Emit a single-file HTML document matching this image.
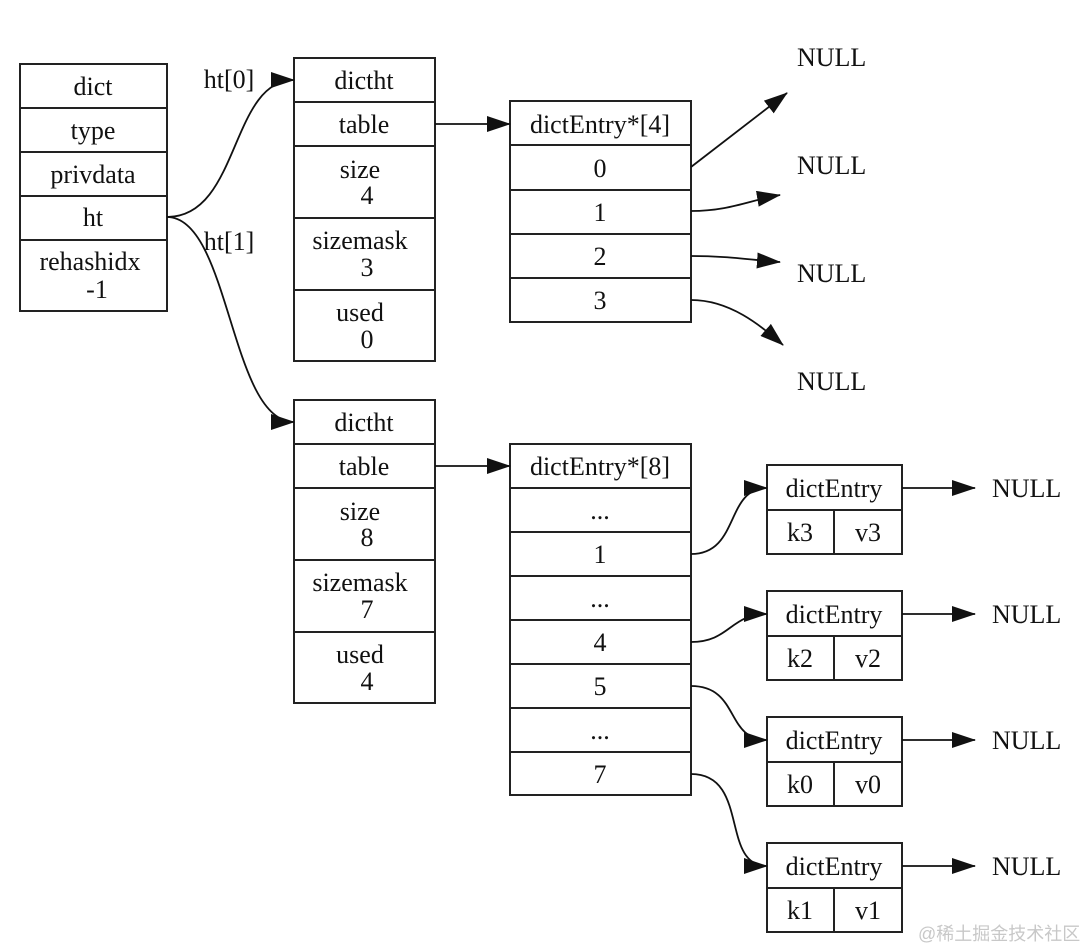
<!DOCTYPE html>
<html><head><meta charset="utf-8"><style>
html,body{margin:0;padding:0;background:#fff;}
svg{display:block;}
text{font-family:"Liberation Serif",serif;font-size:26px;fill:#111;text-anchor:middle;}
.l{text-anchor:start;}
</style></head><body>
<svg width="1084" height="948" viewBox="0 0 1084 948" xmlns="http://www.w3.org/2000/svg">
<defs>
<marker id="a" markerWidth="24" markerHeight="16" refX="23" refY="8" orient="auto" markerUnits="userSpaceOnUse">
<path d="M0,0 L24,8 L0,16 Z" fill="#111"/>
</marker>
</defs>
<g fill="none" stroke="#222" stroke-width="2">
<rect x="20" y="64" width="147" height="247"/>
<path d="M20 108H167M20 152H167M20 196H167M20 240H167"/>
<rect x="294" y="58" width="141" height="303"/>
<path d="M294 102H435M294 146H435M294 218H435M294 290H435"/>
<rect x="510" y="101" width="181" height="221"/>
<path d="M510 145H691M510 190H691M510 234H691M510 278H691"/>
<rect x="294" y="400" width="141" height="303"/>
<path d="M294 444H435M294 488H435M294 560H435M294 632H435"/>
<rect x="510" y="444" width="181" height="351"/>
<path d="M510 488H691M510 532H691M510 576H691M510 620H691M510 664H691M510 708H691M510 752H691"/>
<rect x="767" y="465" width="135" height="89"/><path d="M767 510H902M834 510V554"/>
<rect x="767" y="591" width="135" height="89"/><path d="M767 636H902M834 636V680"/>
<rect x="767" y="717" width="135" height="89"/><path d="M767 762H902M834 762V806"/>
<rect x="767" y="843" width="135" height="89"/><path d="M767 888H902M834 888V932"/>
</g>
<g fill="none" stroke="#111" stroke-width="1.8" marker-end="url(#a)">
<path d="M167 217 C240 217 230 80 294 80"/>
<path d="M167 217 C230 217 230 422 294 422"/>
<path d="M435 124 H510"/>
<path d="M435 466 H510"/>
<path d="M691 167 L787 93"/>
<path d="M691 211 C730 211 750 200 780 195"/>
<path d="M691 256 C730 256 750 260 780 262"/>
<path d="M691 300 C730 300 760 325 783 345"/>
<path d="M691 554 C740 554 725 488 767 488"/>
<path d="M691 642 C730 642 730 614 767 614"/>
<path d="M691 686 C740 686 725 740 767 740"/>
<path d="M691 774 C750 774 720 866 767 866"/>
<path d="M902 488 H975"/>
<path d="M902 614 H975"/>
<path d="M902 740 H975"/>
<path d="M902 866 H975"/>
</g>
<text x="93" y="95">dict</text>
<text x="93" y="139">type</text>
<text x="93" y="183">privdata</text>
<text x="93" y="226">ht</text>
<text x="90" y="270">rehashidx</text>
<text x="97" y="298">-1</text>
<text x="229" y="88">ht[0]</text>
<text x="229" y="250">ht[1]</text>
<text x="364" y="89">dictht</text>
<text x="364" y="133">table</text>
<text x="360" y="178">size</text>
<text x="367" y="204">4</text>
<text x="360" y="249">sizemask</text>
<text x="367" y="276">3</text>
<text x="360" y="321">used</text>
<text x="367" y="348">0</text>
<text x="364" y="431">dictht</text>
<text x="364" y="475">table</text>
<text x="360" y="520">size</text>
<text x="367" y="546">8</text>
<text x="360" y="591">sizemask</text>
<text x="367" y="618">7</text>
<text x="360" y="663">used</text>
<text x="367" y="690">4</text>
<text x="600" y="133">dictEntry*[4]</text>
<text x="600" y="177">0</text>
<text x="600" y="221">1</text>
<text x="600" y="265">2</text>
<text x="600" y="309">3</text>
<text x="600" y="475">dictEntry*[8]</text>
<text x="600" y="519">...</text>
<text x="600" y="563">1</text>
<text x="600" y="607">...</text>
<text x="600" y="651">4</text>
<text x="600" y="695">5</text>
<text x="600" y="739">...</text>
<text x="600" y="783">7</text>
<text class="l" x="797" y="66">NULL</text>
<text class="l" x="797" y="174">NULL</text>
<text class="l" x="797" y="282">NULL</text>
<text class="l" x="797" y="390">NULL</text>
<text x="834" y="497">dictEntry</text><text x="800" y="541">k3</text><text x="868" y="541">v3</text>
<text x="834" y="623">dictEntry</text><text x="800" y="667">k2</text><text x="868" y="667">v2</text>
<text x="834" y="749">dictEntry</text><text x="800" y="793">k0</text><text x="868" y="793">v0</text>
<text x="834" y="875">dictEntry</text><text x="800" y="919">k1</text><text x="868" y="919">v1</text>
<text class="l" x="992" y="497">NULL</text>
<text class="l" x="992" y="623">NULL</text>
<text class="l" x="992" y="749">NULL</text>
<text class="l" x="992" y="875">NULL</text>
<text class="l" x="918" y="940" style="font-family:'Liberation Sans','Noto Sans CJK SC',sans-serif;font-size:18px;fill:#c8c8c8">@稀土掘金技术社区</text>
</svg>
</body></html>
